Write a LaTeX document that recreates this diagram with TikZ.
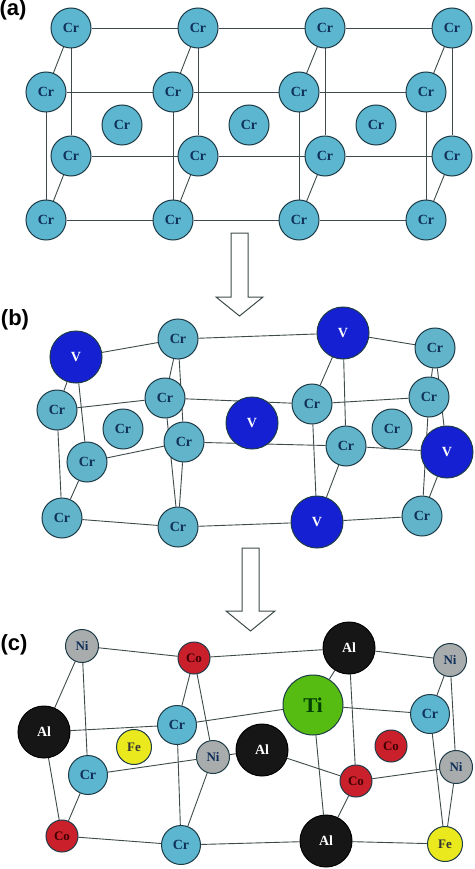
\documentclass[tikz,border=0pt]{standalone}
\usepackage{fontspec}
\setmainfont{Liberation Serif}
\newfontfamily\labfont{Liberation Sans}
\usetikzlibrary{backgrounds}
\definecolor{crc}{HTML}{5CB6CF}
\definecolor{crb}{HTML}{62B4CA}
\definecolor{vc}{HTML}{1420D2}
\definecolor{alc}{HTML}{161616}
\definecolor{tic}{HTML}{56BC12}
\definecolor{fec}{HTML}{E9E91E}
\definecolor{coc}{HTML}{C9202B}
\definecolor{nic}{HTML}{A9ACAC}
\definecolor{ringc}{HTML}{1D3B46}
\definecolor{txtc}{HTML}{10305A}
\definecolor{linec}{HTML}{3F4A4A}
\tikzset{
  atom/.style={circle,draw=ringc,line width=1pt,inner sep=0pt,font=\bfseries\fontsize{14}{14}\selectfont,text=txtc},
  cra/.style={atom,fill=crc,minimum size=40pt},
  crm/.style={atom,fill=crb,minimum size=40pt},
  crs/.style={atom,fill=crc,minimum size=39pt},
  vat/.style={atom,fill=vc,minimum size=52pt,text=white},
  alat/.style={atom,fill=alc,minimum size=52pt,text=white,draw=black},
  tiat/.style={atom,fill=tic,minimum size=60pt,font=\bfseries\fontsize{21}{21}\selectfont,text=black!75!green},
  feat/.style={atom,fill=fec,minimum size=35pt,font=\bfseries\fontsize{13}{13}\selectfont,text=black!80},
  coat/.style={atom,fill=coc,minimum size=32pt,font=\bfseries\fontsize{13}{13}\selectfont,text=black!75!red},
  niat/.style={atom,fill=nic,minimum size=33pt,font=\bfseries\fontsize{13}{13}\selectfont},
  bond/.style={draw=linec,line width=0.9pt},
  hollow/.style={draw=linec,line width=1pt,fill=white,line join=miter},
  panel/.style={font=\labfont\bfseries\fontsize{22}{22}\selectfont,inner sep=0pt,anchor=center,text=black}
}
\begin{document}
\begin{tikzpicture}[x=1pt,y=-1pt]
\useasboundingbox (0,0) rectangle (474,869);
\begin{scope}[on background layer]
\fill[white] (0,0) rectangle (474,869);
\end{scope}
\node[panel] (la) at (13,10) {(a)};
\node[panel] (lb) at (15,320) {(b)};
\node[panel] (lc) at (14,645) {(c)};
% (a)
\foreach \n/\x/\y in {a1/71/28,a2/198/28,a3/325/28,a4/452/28,
  b1/46/92,b2/173/92,b3/299/92,b4/426/92,
  c1/71/156,c2/198/156,c3/325/156,c4/452/156,
  d1/46/220,d2/173/220,d3/299/220,d4/426/220,
  e1/122/125,e2/249/125,e3/376/125}
  \node[cra] (\n) at (\x,\y) {Cr};
\begin{scope}[on background layer]
\foreach \r in {a,b,c,d}
  \draw[bond] (\r1) -- (\r2) -- (\r3) -- (\r4);
\foreach \i in {1,2,3,4}{
  \draw[bond] (a\i) -- (b\i);
  \draw[bond] (a\i) -- (c\i);
  \draw[bond] (b\i) -- (d\i);
  \draw[bond] (c\i) -- (d\i);
}
\end{scope}
% arrow 1
\draw[hollow] (231,233) -- (248,233) -- (248,297) -- (263,297) -- (239.5,316) -- (216,297) -- (231,297) -- cycle;
% (b)
\node[vat] (f1) at (76,357) {V};
\node[crm] (f2) at (178,339) {Cr};
\node[vat] (f3) at (343,333) {V};
\node[crm] (f4) at (435,348) {Cr};
\node[crm] (g1) at (57,410) {Cr};
\node[crm] (g2) at (165,398) {Cr};
\node[vat] (gv) at (252,423) {V};
\node[crm] (g3) at (312,404) {Cr};
\node[crm] (g4) at (429,397) {Cr};
\node[crm] (i1) at (123,429) {Cr};
\node[crm] (i2) at (392,429) {Cr};
\node[crm] (h1) at (87,462) {Cr};
\node[crm] (h2) at (184,442) {Cr};
\node[crm] (h3) at (346,446) {Cr};
\node[vat] (h4) at (447,452) {V};
\node[crm] (j1) at (62,518) {Cr};
\node[crm] (j2) at (178,527) {Cr};
\node[vat] (j3) at (317,522) {V};
\node[crm] (j4) at (422,516) {Cr};
\begin{scope}[on background layer]
\draw[bond] (f1) -- (f2) -- (f3) -- (f4);
\draw[bond] (g1) -- (g2) -- (g3) -- (g4);
\draw[bond] (h1) -- (h2) -- (h3) -- (h4);
\draw[bond] (j1) -- (j2) -- (j3) -- (j4);
\draw[bond] (f1) -- (g1);
\draw[bond] (f1) -- (h1);
\draw[bond] (f2) -- (g2);
\draw[bond] (f2) -- (h2);
\draw[bond] (f3) -- (g3);
\draw[bond] (f3) -- (h3);
\draw[bond] (f4) -- (g4);
\draw[bond] (f4) -- (h4);
\draw[bond] (g1) -- (j1);
\draw[bond] (h1) -- (j1);
\draw[bond] (g2) -- (j2);
\draw[bond] (h2) -- (j2);
\draw[bond] (g3) -- (j3);
\draw[bond] (h3) -- (j3);
\draw[bond] (g4) -- (j4);
\draw[bond] (h4) -- (j4);
\end{scope}
% arrow 2
\draw[hollow] (242,548) -- (259,548) -- (259,611) -- (275,611) -- (250.5,631) -- (226,611) -- (242,611) -- cycle;
% (c)
\node[niat] (k1) at (82,646) {Ni};
\node[coat] (k2) at (194,658) {Co};
\node[alat] (k3) at (349,648) {Al};
\node[niat] (k4) at (450,660) {Ni};
\node[alat] (l1) at (44,732) {Al};
\node[crs] (l2) at (177,725) {Cr};
\node[tiat] (l3) at (313,705) {Ti};
\node[crs] (l4) at (430,714) {Cr};
\node[feat] (fe1) at (134,747) {Fe};
\node[coat] (co1) at (391,746) {Co};
\node[crs] (m1) at (88,775) {Cr};
\node[niat] (m2) at (213,757) {Ni};
\node[alat] (m3) at (262,750) {Al};
\node[coat] (m4) at (356,781) {Co};
\node[niat] (m5) at (456,767) {Ni};
\node[coat] (n1) at (62,836) {Co};
\node[crs] (n2) at (181,845) {Cr};
\node[alat] (n3) at (326,841) {Al};
\node[feat] (n4) at (445,844) {Fe};
\begin{scope}[on background layer]
\draw[bond] (k1) -- (k2) -- (k3) -- (k4);
\draw[bond] (l1) -- (l2) -- (l3) -- (l4);
\draw[bond] (m1) -- (m2) -- (m3) -- (m4) -- (m5);
\draw[bond] (n1) -- (n2) -- (n3) -- (n4);
\draw[bond] (k1) -- (l1);
\draw[bond] (k1) -- (m1);
\draw[bond] (k2) -- (l2);
\draw[bond] (k2) -- (m2);
\draw[bond] (k3) -- (l3);
\draw[bond] (k3) -- (m4);
\draw[bond] (k4) -- (l4);
\draw[bond] (k4) -- (m5);
\draw[bond] (l1) -- (n1);
\draw[bond] (m1) -- (n1);
\draw[bond] (l2) -- (n2);
\draw[bond] (m2) -- (n2);
\draw[bond] (l3) -- (n3);
\draw[bond] (m4) -- (n3);
\draw[bond] (l4) -- (n4);
\draw[bond] (m5) -- (n4);
\end{scope}
\end{tikzpicture}
\end{document}
